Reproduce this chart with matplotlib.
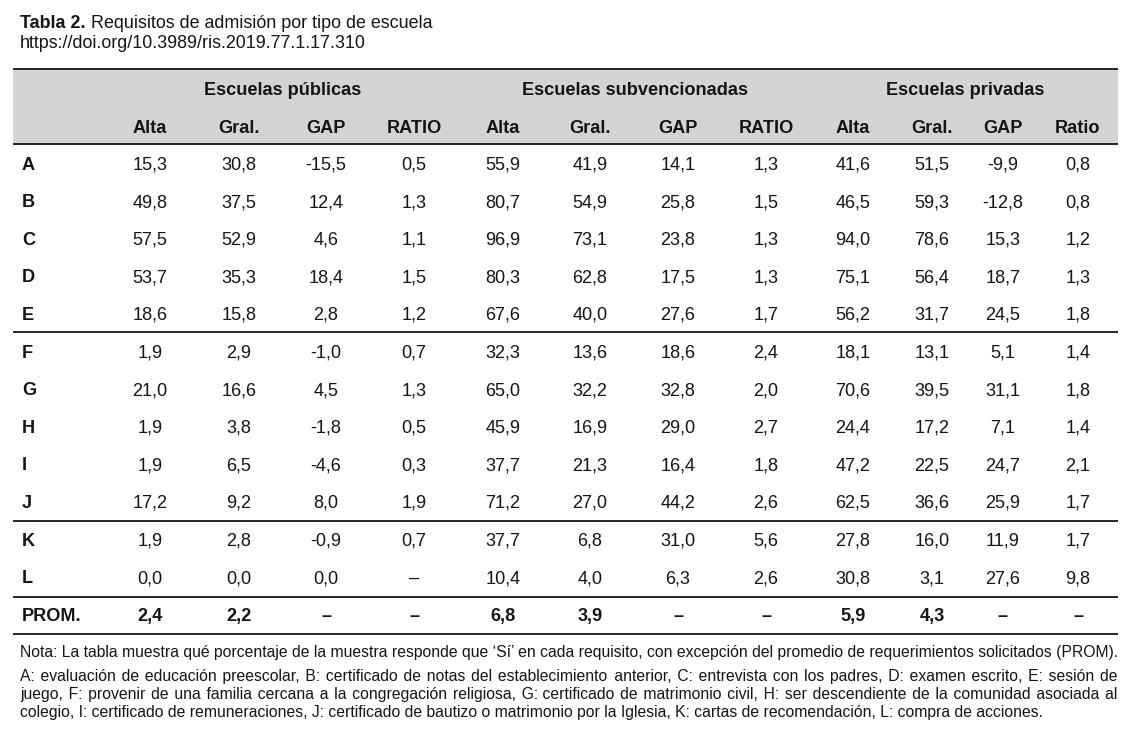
import matplotlib.pyplot as plt
from matplotlib.patches import Rectangle

plt.rcParams['font.family'] = ['Liberation Sans', 'DejaVu Sans']

title_bold = "Tabla 2."
title_rest = " Requisitos de admisión por tipo de escuela"
doi = "https://doi.org/10.3989/ris.2019.77.1.17.310"

groups = ["Escuelas públicas", "Escuelas subvencionadas", "Escuelas privadas"]
columns = ["Alta", "Gral.", "GAP", "RATIO",
           "Alta", "Gral.", "GAP", "RATIO",
           "Alta", "Gral.", "GAP", "Ratio"]
row_labels = ["A", "B", "C", "D", "E", "F", "G", "H", "I", "J", "K", "L"]

publicas = [
    ["15,3", "30,8", "-15,5", "0,5"],
    ["49,8", "37,5", "12,4", "1,3"],
    ["57,5", "52,9", "4,6", "1,1"],
    ["53,7", "35,3", "18,4", "1,5"],
    ["18,6", "15,8", "2,8", "1,2"],
    ["1,9", "2,9", "-1,0", "0,7"],
    ["21,0", "16,6", "4,5", "1,3"],
    ["1,9", "3,8", "-1,8", "0,5"],
    ["1,9", "6,5", "-4,6", "0,3"],
    ["17,2", "9,2", "8,0", "1,9"],
    ["1,9", "2,8", "-0,9", "0,7"],
    ["0,0", "0,0", "0,0", "–"],
]
subvencionadas = [
    ["55,9", "41,9", "14,1", "1,3"],
    ["80,7", "54,9", "25,8", "1,5"],
    ["96,9", "73,1", "23,8", "1,3"],
    ["80,3", "62,8", "17,5", "1,3"],
    ["67,6", "40,0", "27,6", "1,7"],
    ["32,3", "13,6", "18,6", "2,4"],
    ["65,0", "32,2", "32,8", "2,0"],
    ["45,9", "16,9", "29,0", "2,7"],
    ["37,7", "21,3", "16,4", "1,8"],
    ["71,2", "27,0", "44,2", "2,6"],
    ["37,7", "6,8", "31,0", "5,6"],
    ["10,4", "4,0", "6,3", "2,6"],
]
privadas = [
    ["41,6", "51,5", "-9,9", "0,8"],
    ["46,5", "59,3", "-12,8", "0,8"],
    ["94,0", "78,6", "15,3", "1,2"],
    ["75,1", "56,4", "18,7", "1,3"],
    ["56,2", "31,7", "24,5", "1,8"],
    ["18,1", "13,1", "5,1", "1,4"],
    ["70,6", "39,5", "31,1", "1,8"],
    ["24,4", "17,2", "7,1", "1,4"],
    ["47,2", "22,5", "24,7", "2,1"],
    ["62,5", "36,6", "25,9", "1,7"],
    ["27,8", "16,0", "11,9", "1,7"],
    ["30,8", "3,1", "27,6", "9,8"],
]
prom_label = "PROM."
prom = ["2,4", "2,2", "–", "–", "6,8", "3,9", "–", "–", "5,9", "4,3", "–", "–"]

nota = ("Nota: La tabla muestra qué porcentaje de la muestra responde que ‘Sí’ en cada "
        "requisito, con excepción del promedio de requerimientos solicitados (PROM).")
leyenda = [
    "A: evaluación de educación preescolar, B: certificado de notas del establecimiento anterior, "
    "C: entrevista con los padres, D: examen escrito, E: sesión de",
    "juego, F: provenir de una familia cercana a la congregación religiosa, G: certificado de "
    "matrimonio civil, H: ser descendiente de la comunidad asociada al",
    "colegio, I: certificado de remuneraciones, J: certificado de bautizo o matrimonio por la "
    "Iglesia, K: cartas de recomendación, L: compra de acciones.",
]

# layout (pixels)
W, H = 1144, 742
left, right = 13, 1118
text_left = 20
col_x = [150, 239, 326, 414, 503, 590, 678, 766, 853, 932, 1003, 1078]
group_x = [283, 635, 965]
row_base0, row_dy = 169.5, 37.6
ink = '#151515'
fs = 13.1
fs_title = 12.9
fs_note = 11.35

fig = plt.figure(figsize=(W / 100, H / 100), dpi=100)
ax = fig.add_axes([0, 0, 1, 1])
ax.set_xlim(0, W)
ax.set_ylim(H, 0)
ax.axis('off')
r = fig.canvas.get_renderer()

def width(t):
    return t.get_window_extent(renderer=r).width

def measure(s, size):
    t = ax.text(0, 0, s, fontsize=size)
    w = width(t)
    t.remove()
    return w

# title
t = ax.text(text_left, 27.5, title_bold, fontsize=fs_title, fontweight='bold', color=ink, va='baseline')
ax.text(text_left + width(t), 27.5, title_rest, fontsize=fs_title, color=ink, va='baseline')
ax.text(text_left, 48.5, doi, fontsize=fs_title, color=ink, va='baseline')

# header band and rules
ax.add_patch(Rectangle((left, 69), right - left, 75, facecolor='#d4d4d4', edgecolor='none'))
for y in [69, 144, 332, 521, 597, 634]:
    ax.plot([left, right], [y, y], color=ink, lw=1.3, solid_capstyle='butt')

for g, x in zip(groups, group_x):
    ax.text(x, 95, g, fontsize=fs, fontweight='bold', color=ink, ha='center', va='baseline')
for c, x in zip(columns, col_x):
    ax.text(x, 133, c, fontsize=fs, fontweight='bold', color=ink, ha='center', va='baseline')

for i, lab in enumerate(row_labels):
    y = row_base0 + i * row_dy
    ax.text(22, y, lab, fontsize=fs, fontweight='bold', color=ink, va='baseline')
    vals = publicas[i] + subvencionadas[i] + privadas[i]
    for v, x in zip(vals, col_x):
        ax.text(x, y, v, fontsize=fs, color=ink, ha='center', va='baseline')

y = row_base0 + len(row_labels) * row_dy
ax.text(22, y, prom_label, fontsize=fs, fontweight='bold', color=ink, va='baseline')
for v, x in zip(prom, col_x):
    ax.text(x, y, v, fontsize=fs, fontweight='bold', color=ink, ha='center', va='baseline')

# notes: justified paragraph, widened with hair spaces so each line stays one text
ax.text(text_left, 656.5, nota, fontsize=fs_note, color=ink, va='baseline')
hair = '\u200a'
w_hair = measure('a' + hair * 10 + 'a', fs_note) - measure('aa', fs_note)
w_hair /= 10
for k, line in enumerate(leyenda):
    yy = 681.5 + k * 18
    if k < len(leyenda) - 1 and w_hair > 0:
        words = line.split(' ')
        extra = (right - text_left) - measure(line, fs_note)
        n_total = max(0, int(round(extra / w_hair)))
        gaps = len(words) - 1
        s = words[0]
        used = 0
        for j in range(1, len(words)):
            n = int(round(n_total * j / gaps)) - used
            used += n
            s += ' ' + hair * n + words[j]
        line = s
    ax.text(text_left, yy, line, fontsize=fs_note, color=ink, va='baseline')

fig.savefig('out.png', dpi=100)
